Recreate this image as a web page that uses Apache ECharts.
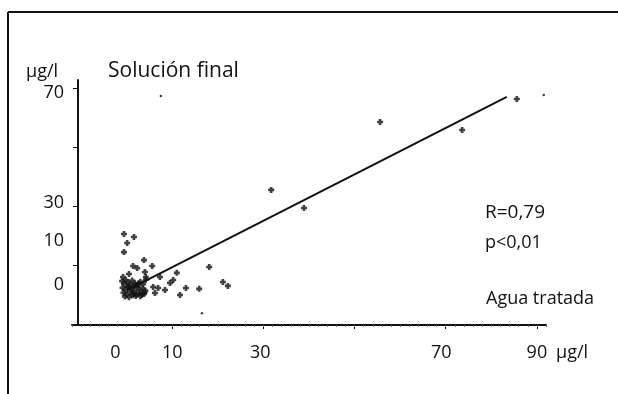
<!DOCTYPE html>
<html><head><meta charset="utf-8">
<script src="https://cdn.jsdelivr.net/npm/echarts@6/dist/echarts.min.js"></script>
<style>html,body{margin:0;padding:0;background:#fff}#c{width:618px;height:394px}</style>
</head><body><div id="c"></div>
<script>
// Agua tratada (x, µg/l) vs Solución final (y, µg/l)
const xValues = [-0.6, 1.6, 0.1, -0.6, 1.4, 2.3, 3.8, 5.6, 0.5, -0.8, 4.0, 4.2, 7.3, 11.0, 10.2, 9.5, 18.1, 21.1, 22.2, 13.0, 15.9, 11.7, 5.8, 6.2, 8.4, 6.9,
  85.6, 55.6, 73.6, 31.7, 38.9,
  -1.0, -0.6, -0.2, 0.3, 0.8, 1.2, 1.8, 2.4, 3.0, 3.6, 4.2, -0.9, -0.3, 0.4, 1.0, 1.6, 2.2, 2.9, 3.5, 4.1, -0.7, 0.0, 0.7, 1.4, 2.0, 2.7, 3.3, 3.9, -0.4, 0.5, 1.3, 2.1, 3.0, 3.8, 0.2, 1.8, 2.6];
const yValues = [20.7, 19.7, 17.7, 14.6, 9.9, 9.2, 11.9, 9.9, 7.2, 6.2, 7.9, 6.2, 6.2, 7.6, 5.2, 4.2, 9.6, 4.5, 3.2, 2.5, 2.2, 0.1, 2.8, 0.8, 1.8, 2.5,
  66.3, 58.5, 55.8, 35.6, 29.5,
  4.8, 3.9, 5.2, 4.4, 3.6, 5.0, 4.1, 3.3, 4.6, 3.8, 5.3, 2.6, 1.9, 2.9, 2.2, 1.5, 2.7, 1.8, 2.4, 1.6, 0.9, 0.3, 1.2, 0.6, -0.2, 0.8, 0.2, 1.0, -0.4, -0.6, 0.0, 0.4, -0.3, 0.5, 3.0, 3.4, 4.0];
// faint single dots
const dotX = [7.5, 91.5, 16.5];
const dotY = [67.3, 67.6, -6.0];
// regression line
const lineX = [0, 83.4];
const lineY = [1.7, 67.0];
// tick labels
const xTickLabels = ['0', '10', '30', '70', '90'];
const yTickLabels = ['0', '10', '30', '70'];
// where the printed labels sit along each axis (axis units)
const xLabelAt = [-2.5, 10, 29.3, 69, 90];
const yLabelAt = [3.4, 18.3, 31.3, 68.5];

const FONT = '"Open Sans"';
const INK = '#111';
const pts = xValues.map((x, i) => [x, yValues[i]]);
const dots = dotX.map((x, i) => [x, dotY[i]]);
const line = lineX.map((x, i) => [x, lineY[i]]);

const chart = echarts.init(document.getElementById('c'), null, {renderer: 'canvas'});
chart.setOption({
  animation: false,
  backgroundColor: '#fff',
  grid: {left: 72, right: 72, top: 80, bottom: 69},
  xAxis: [{
    type: 'value', min: -12, max: 92, position: 'bottom', offset: 0,
    splitLine: {show: false},
    axisLine: {show: true, onZero: false, lineStyle: {color: INK, width: 2}},
    axisTick: {show: true, length: 4, inside: false, customValues: [10, 30, 50, 70, 90], lineStyle: {color: INK, width: 1}},
    axisLabel: {show: true, customValues: xLabelAt, margin: 19, fontFamily: FONT, fontSize: 18, color: INK,
      formatter: v => { const i = xLabelAt.indexOf(v); return i >= 0 ? xTickLabels[i] : ''; }}
  }, {
    type: 'value', min: -12, max: 92, interval: 2, position: 'bottom', offset: 0,
    splitLine: {show: false}, axisLine: {show: false, onZero: false},
    axisTick: {show: true, length: 2, lineStyle: {color: '#666', width: 1}},
    axisLabel: {show: false}
  }],
  yAxis: {
    type: 'value', min: -10, max: 72.7, offset: -6,
    splitLine: {show: false},
    axisLine: {show: true, onZero: false, lineStyle: {color: INK, width: 2}},
    axisTick: {show: true, length: 5, customValues: [10, 30, 50, 70], lineStyle: {color: INK, width: 1}},
    axisLabel: {show: true, customValues: yLabelAt, margin: 14, fontFamily: FONT, fontSize: 18, color: INK,
      formatter: v => { const i = yLabelAt.indexOf(v); return i >= 0 ? yTickLabels[i] : ''; }}
  },
  series: [{
    type: 'line', data: line, showSymbol: false, symbol: 'none',
    lineStyle: {color: INK, width: 2}, z: 3
  }, {
    type: 'scatter', data: pts,
    symbol: 'path://M2,0H5V2H7V5H5V7H2V5H0V2H2Z', symbolSize: 6,
    itemStyle: {color: INK}, z: 4
  }, {
    type: 'scatter', data: dots, symbol: 'circle', symbolSize: 2.5,
    itemStyle: {color: INK}, z: 4
  }],
  graphic: [
    {type: 'line', shape: {x1: 8, y1: 12, x2: 618, y2: 12}, style: {stroke: INK, lineWidth: 2}},
    {type: 'line', shape: {x1: 8, y1: 12, x2: 8, y2: 394}, style: {stroke: INK, lineWidth: 2}},
    {type: 'text', x: 26, y: 72, style: {text: 'µg/l', font: '18px ' + FONT, fill: INK, verticalAlign: 'middle'}},
    {type: 'text', x: 108, y: 71, style: {text: 'Solución final', font: '21px ' + FONT, fill: INK, verticalAlign: 'middle'}},
    {type: 'text', x: 485, y: 213, style: {text: 'R=0,79', font: '19px ' + FONT, fill: INK, verticalAlign: 'middle'}},
    {type: 'text', x: 485, y: 243, style: {text: 'p<0,01', font: '18px ' + FONT, fill: INK, verticalAlign: 'middle'}},
    {type: 'text', x: 486, y: 299, style: {text: 'Agua tratada', font: '18px ' + FONT, fill: INK, verticalAlign: 'middle'}},
    {type: 'text', x: 556, y: 353, style: {text: 'µg/l', font: '18px ' + FONT, fill: INK, verticalAlign: 'middle'}}
  ]
});
</script></body></html>
